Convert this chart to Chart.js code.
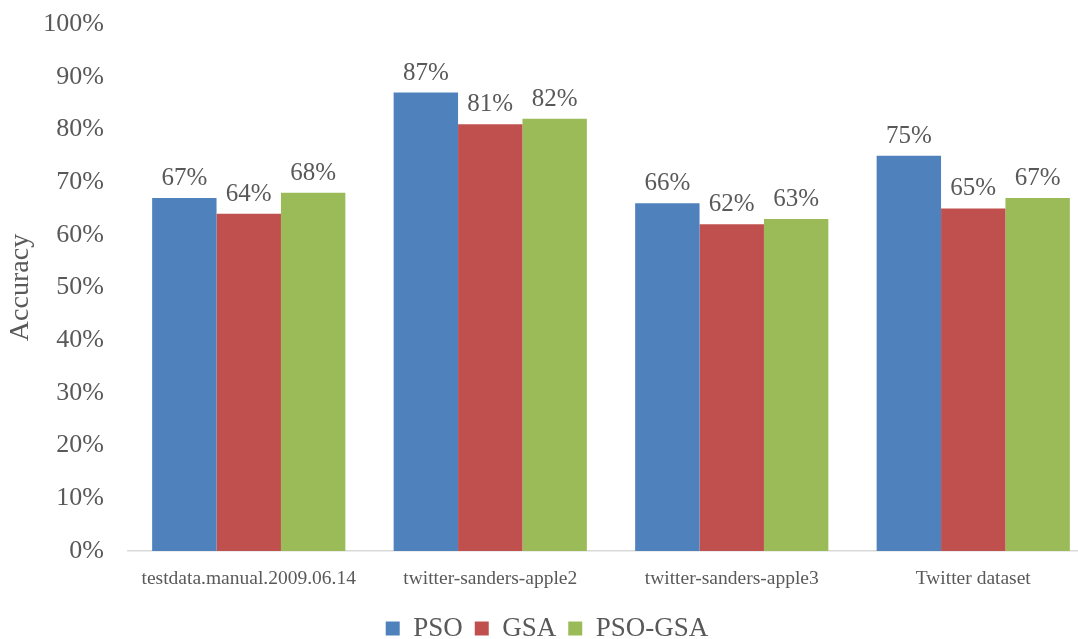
<!DOCTYPE html>
<html>
<head>
<meta charset="utf-8">
<script src="https://cdn.jsdelivr.net/npm/chart.js@4/dist/chart.umd.min.js"></script>
<style>
  html, body { margin: 0; padding: 0; background: #fff; overflow: hidden; }
  #wrap { width: 1078px; height: 639px; overflow: hidden; }
</style>
</head>
<body>
<div id="wrap"><canvas id="myChart" width="1096" height="639"></canvas></div>
<script>
// Chart data
let categories = ["testdata.manual.2009.06.14", "twitter-sanders-apple2", "twitter-sanders-apple3", "Twitter dataset"];
let psoValues = [67, 87, 66, 75];
let gsaValues = [64, 81, 62, 65];
let psoGsaValues = [68, 82, 63, 67];
let yTicks = [0, 10, 20, 30, 40, 50, 60, 70, 80, 90, 100];

let colors = {blue: '#4F81BD', red: '#C0504D', green: '#9BBB59'};
let textColor = '#595959';
let serif = "'Liberation Serif', 'Times New Roman', serif";

// draws the value on top of each bar
let valueLabels = {
  id: 'valueLabels',
  afterDatasetsDraw(chart) {
    let ctx = chart.ctx;
    ctx.save();
    ctx.font = '25px ' + serif;
    ctx.fillStyle = textColor;
    ctx.textAlign = 'center';
    ctx.textBaseline = 'alphabetic';
    chart.data.datasets.forEach((ds, i) => {
      chart.getDatasetMeta(i).data.forEach((bar, j) => {
        ctx.fillText(ds.data[j] + '%', bar.x, bar.y - 13);
      });
    });
    ctx.restore();
  }
};

var ctx = document.getElementById("myChart").getContext("2d");
var myChart = new Chart(ctx, {
  type: "bar",
  data: {
    labels: categories,
    datasets: [
      {label: "PSO", data: psoValues, backgroundColor: colors.blue},
      {label: "GSA", data: gsaValues, backgroundColor: colors.red},
      {label: "PSO-GSA", data: psoGsaValues, backgroundColor: colors.green}
    ]
  },
  options: {
    responsive: false,
    animation: false,
    categoryPercentage: 0.8,
    barPercentage: 1.0,
    layout: {padding: {top: 24, right: 2, left: 0, bottom: -13}},
    plugins: {
      legend: {
        position: 'bottom',
        labels: {
          font: {family: serif, size: 27},
          color: textColor,
          boxWidth: 14,
          boxHeight: 14,
          padding: 12
        }
      },
      tooltip: {enabled: false}
    },
    scales: {
      x: {
        grid: {display: false},
        border: {display: true, color: '#d9d9d9', width: 1.5},
        ticks: {font: {family: serif, size: 19.5}, color: textColor, padding: 8, maxRotation: 0},
        afterFit: (scale) => { scale.height = 52; }
      },
      y: {
        min: 0,
        max: 100,
        grid: {display: false},
        border: {display: false},
        afterBuildTicks: (scale) => { scale.ticks = yTicks.map(v => ({value: v})); },
        ticks: {
          font: {family: serif, size: 26, lineHeight: 0.5},
          color: textColor,
          padding: 16,
          callback: (v) => v + '%'
        },
        title: {
          display: true,
          text: 'Accuracy',
          font: {family: serif, size: 28},
          color: textColor,
          padding: {top: 4, bottom: 0}
        },
        afterFit: (scale) => { scale.width = 128; }
      }
    }
  },
  plugins: [valueLabels]
});
</script>
</body>
</html>
